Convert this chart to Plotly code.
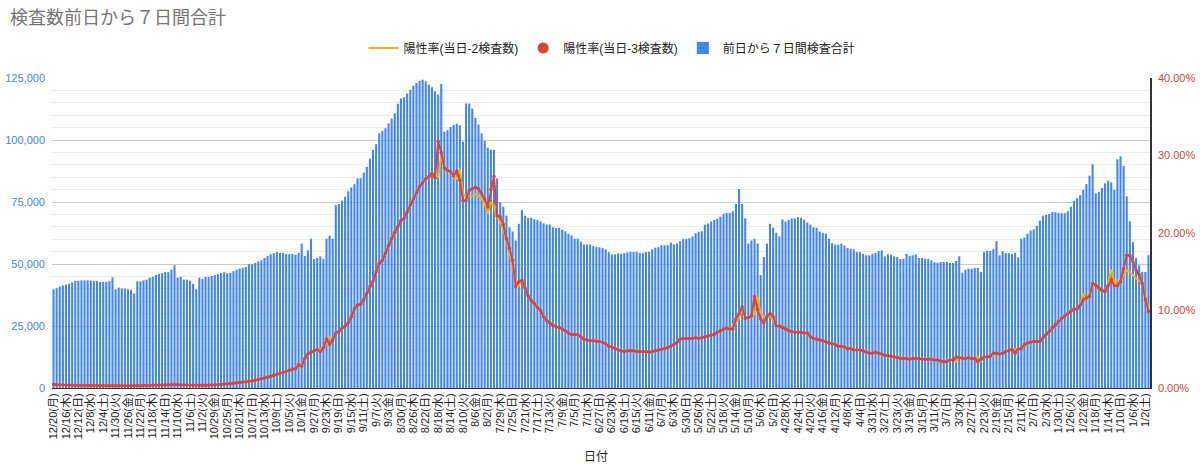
import plotly.graph_objects as go
from datetime import date, timedelta

# ---------------- data ----------------
START = date(2021, 12, 20)          # leftmost category (axis runs backwards in time)
N_DAYS = 354
WEEKDAYS = ["月", "火", "水", "木", "金", "土", "日"]
dates = [START - timedelta(days=i) for i in range(N_DAYS)]
categories = [f"{d.month}/{d.day}({WEEKDAYS[d.weekday()]})" for d in dates]
tick_labels = categories[::4]

y_left_ticks = [0, 25000, 50000, 75000, 100000, 125000]
y_right_ticks = [0, 10, 20, 30, 40]
y_right_labels = ["0.00%", "10.00%", "20.00%", "30.00%", "40.00%"]

# 前日から７日間検査合計 (index 0 = 12/20, last = 1/1)
tests_7day = [
    39800, 40200, 40900, 41300, 41700, 42100, 42600, 43200, 43200, 43400,
    43400, 43400, 43300, 43200, 43200, 42800, 42800, 42800, 43000, 44600,
    39800, 40500, 40100, 40100, 39800, 39600, 38100, 43000, 43000, 43400,
    43700, 44500, 44900, 45600, 46000, 46300, 46700, 46700, 47700, 49500,
    44500, 44800, 43700, 43700, 43300, 42000, 39800, 44500, 43900, 44800,
    44800, 45200, 45500, 45900, 46300, 46700, 46300, 46400, 47100, 47700,
    48100, 48500, 48800, 49900, 49900, 50400, 51100, 51500, 52400, 53200,
    53900, 54400, 54800, 54500, 54400, 54100, 53900, 54000, 53700, 54500,
    58200, 53200, 55500, 60200, 52000, 52400, 53100, 52100, 60200, 61400,
    60200, 73800, 74200, 75500, 77100, 79300, 80900, 82200, 84500, 84600,
    86900, 89200, 92500, 96000, 98300, 102700, 103600, 104700, 106700, 108700,
    110800, 114600, 116700, 117200, 118700, 120300, 121900, 123000, 123900, 124300,
    123700, 122300, 121300, 119700, 118300, 122600, 103300, 103900, 105200, 106000,
    106600, 105900, 99300, 114700, 114700, 112700, 109000, 106300, 102700, 99600,
    96900, 96100, 96000, 84500, 74900, 73100, 69500, 64800, 63100, 59500,
    66200, 71800, 69500, 68600, 68600, 68000, 67800, 67200, 66400, 65900,
    65900, 64800, 64600, 64600, 63800, 63200, 62200, 61500, 60200, 60200,
    59000, 57900, 57900, 57900, 57200, 56800, 56700, 56400, 55900, 54800,
    53900, 53900, 54300, 54100, 54400, 54700, 54900, 54900, 54900, 54500,
    54500, 54900, 54900, 55900, 56600, 56800, 57500, 57500, 57500, 58600,
    57900, 58300, 59200, 60000, 60000, 60400, 61100, 62400, 63000, 63200,
    65900, 66300, 67100, 67800, 68200, 69100, 70200, 70600, 70600, 71300,
    74200, 80200, 74200, 68400, 58200, 59500, 60200, 58200, 45500, 52800,
    58200, 66200, 64600, 62600, 61100, 68000, 67100, 67800, 68400, 68400,
    68900, 68600, 67900, 66700, 65900, 64800, 64600, 63100, 62600, 62200,
    60200, 58400, 57800, 57800, 58200, 57400, 56400, 56100, 55900, 54800,
    54800, 54100, 53500, 53500, 54100, 54500, 55200, 55500, 53100, 53900,
    53700, 53100, 52800, 52000, 52000, 54100, 53300, 53500, 53900, 52400,
    52400, 52100, 52100, 51500, 50700, 50500, 50800, 50800, 50800, 50400,
    50400, 51200, 53100, 46500, 47700, 48100, 48100, 48400, 48400, 46800,
    54800, 55300, 55300, 56000, 59200, 53500, 55100, 54400, 54400, 54100,
    54500, 52700, 60200, 60600, 62200, 63500, 63900, 65400, 67500, 69500,
    69800, 70200, 70900, 70900, 70500, 70500, 70500, 71300, 73100, 75500,
    76500, 77800, 79900, 82200, 85600, 90200, 78500, 79100, 80600, 82500,
    83600, 82900, 79900, 92200, 93400, 89600, 77300, 67200, 58800, 52400,
    49500, 46800, 46800, 53500,
]

# 陽性率(当日-3検査数)  [%]
pos_rate_d3 = [
    0.45, 0.42, 0.40, 0.38, 0.37, 0.36, 0.35, 0.34, 0.33, 0.32,
    0.31, 0.31, 0.30, 0.30, 0.29, 0.29, 0.28, 0.28, 0.28, 0.29,
    0.30, 0.30, 0.29, 0.29, 0.28, 0.28, 0.29, 0.29, 0.30, 0.31,
    0.32, 0.33, 0.35, 0.36, 0.38, 0.40, 0.42, 0.43, 0.44, 0.45,
    0.44, 0.42, 0.40, 0.38, 0.36, 0.35, 0.34, 0.33, 0.34, 0.35,
    0.36, 0.38, 0.40, 0.42, 0.45, 0.48, 0.52, 0.56, 0.60, 0.65,
    0.70, 0.75, 0.80, 0.85, 0.90, 1.0, 1.1, 1.2, 1.3, 1.4,
    1.5, 1.6, 1.75, 1.9, 2.0, 2.15, 2.3, 2.45, 2.5, 3.0,
    2.8, 3.8, 4.4, 4.6, 4.8, 5.0, 4.7, 5.2, 6.3, 5.6,
    6.2, 7.1, 7.3, 7.7, 8.0, 8.4, 9.2, 10.2, 10.7, 10.8,
    11.4, 12.2, 13.1, 13.8, 15.0, 16.1, 16.5, 17.4, 18.4, 19.3,
    20.1, 20.8, 21.6, 21.9, 22.7, 23.6, 24.4, 25.2, 26.0, 26.5,
    27.0, 27.3, 27.7, 27.1, 31.8, 30.4, 28.4, 28.1, 27.9, 27.4,
    28.0, 26.8, 24.2, 24.2, 25.5, 25.7, 25.9, 25.7, 25.1, 24.4,
    23.4, 25.6, 27.3, 22.2, 22.1, 21.1, 19.3, 18.0, 16.5, 13.1,
    13.7, 13.9, 12.9, 11.9, 11.3, 10.9, 10.4, 10.0, 9.2, 8.7,
    8.4, 8.1, 7.9, 7.8, 7.6, 7.4, 7.1, 6.9, 6.9, 6.9,
    6.6, 6.3, 6.2, 6.1, 6.1, 6.0, 6.0, 5.9, 5.7, 5.4,
    5.3, 5.1, 4.9, 4.8, 4.7, 4.8, 4.8, 4.8, 4.7, 4.7,
    4.7, 4.7, 4.6, 4.7, 4.8, 4.9, 5.0, 5.1, 5.2, 5.4,
    5.6, 5.9, 6.3, 6.4, 6.4, 6.4, 6.4, 6.5, 6.4, 6.5,
    6.6, 6.7, 6.8, 6.9, 7.2, 7.4, 7.6, 7.7, 7.6, 7.6,
    8.9, 9.6, 10.5, 9.0, 9.1, 9.3, 11.8, 10.1, 8.9, 8.4,
    9.2, 9.6, 9.2, 8.0, 8.0, 7.8, 7.6, 7.4, 7.3, 7.2,
    7.2, 7.2, 7.1, 7.1, 6.6, 6.4, 6.3, 6.2, 6.1, 6.0,
    5.8, 5.7, 5.6, 5.4, 5.4, 5.3, 5.1, 5.1, 4.9, 4.9,
    4.9, 4.8, 4.6, 4.5, 4.5, 4.6, 4.5, 4.4, 4.2, 4.2,
    4.1, 4.0, 3.9, 3.8, 3.8, 3.8, 3.7, 3.8, 3.8, 3.8,
    3.7, 3.7, 3.7, 3.7, 3.6, 3.6, 3.5, 3.4, 3.4, 3.6,
    3.6, 4.0, 3.9, 3.8, 3.8, 3.9, 3.8, 3.8, 3.4, 3.7,
    4.0, 4.0, 4.1, 4.5, 4.5, 4.4, 4.5, 4.7, 4.8, 5.0,
    4.5, 5.0, 5.1, 5.6, 5.8, 5.9, 6.0, 6.0, 6.0, 6.5,
    6.9, 7.3, 7.8, 8.2, 8.6, 9.0, 9.3, 9.6, 9.9, 10.2,
    10.2, 10.7, 11.4, 11.6, 11.8, 13.5, 13.3, 12.9, 12.6, 12.4,
    13.2, 14.0, 13.2, 13.2, 13.7, 15.4, 17.1, 17.1, 16.3, 15.2,
    14.6, 13.5, 11.4, 9.9,
]

# 陽性率(当日-2検査数)  [%]
pos_rate_d2 = [
    0.45, 0.42, 0.40, 0.38, 0.37, 0.36, 0.35, 0.34, 0.33, 0.32,
    0.31, 0.31, 0.30, 0.30, 0.29, 0.29, 0.28, 0.28, 0.28, 0.29,
    0.30, 0.30, 0.29, 0.29, 0.28, 0.28, 0.29, 0.29, 0.30, 0.31,
    0.32, 0.33, 0.35, 0.36, 0.38, 0.40, 0.42, 0.43, 0.44, 0.45,
    0.44, 0.42, 0.40, 0.38, 0.36, 0.35, 0.34, 0.33, 0.34, 0.35,
    0.36, 0.38, 0.40, 0.42, 0.45, 0.48, 0.52, 0.56, 0.60, 0.65,
    0.70, 0.75, 0.80, 0.85, 0.90, 1.0, 1.1, 1.2, 1.3, 1.4,
    1.5, 1.6, 1.75, 1.9, 2.0, 2.15, 2.3, 2.45, 2.6, 2.9,
    3.1, 3.6, 4.4, 4.6, 4.8, 4.9, 5.0, 5.2, 5.8, 6.6,
    6.2, 7.1, 7.3, 7.7, 8.0, 8.4, 9.2, 10.2, 10.7, 10.8,
    11.4, 12.2, 13.1, 13.8, 15.0, 16.1, 16.5, 17.4, 18.4, 19.3,
    20.1, 20.8, 21.6, 21.9, 22.7, 23.6, 24.4, 25.2, 26.0, 26.5,
    27.0, 27.3, 27.7, 27.0, 27.2, 30.0, 28.6, 28.1, 27.9, 27.2,
    27.0, 28.3, 25.1, 24.6, 24.8, 24.8, 25.0, 24.8, 24.4, 23.8,
    22.5, 24.0, 23.4, 22.1, 21.4, 20.5, 19.0, 17.5, 15.5, 13.8,
    13.2, 13.9, 12.9, 11.9, 11.3, 10.9, 10.4, 10.0, 9.2, 8.7,
    8.4, 8.1, 7.9, 7.8, 7.6, 7.4, 7.1, 6.9, 6.9, 6.9,
    6.6, 6.3, 6.2, 6.1, 6.1, 6.0, 6.0, 5.9, 5.7, 5.4,
    5.3, 5.1, 4.9, 4.8, 4.7, 4.8, 4.8, 4.8, 4.7, 4.7,
    4.7, 4.7, 4.6, 4.7, 4.8, 4.9, 5.0, 5.1, 5.2, 5.4,
    5.6, 5.9, 6.3, 6.4, 6.4, 6.4, 6.4, 6.5, 6.4, 6.5,
    6.6, 6.7, 6.8, 6.9, 7.2, 7.4, 7.6, 7.7, 7.6, 8.1,
    8.4, 9.0, 10.1, 9.2, 9.1, 9.3, 9.5, 11.8, 9.6, 9.2,
    9.2, 9.4, 8.6, 8.0, 8.0, 7.8, 7.6, 7.4, 7.3, 7.2,
    7.2, 7.2, 7.1, 7.1, 6.6, 6.4, 6.3, 6.2, 6.1, 6.0,
    5.8, 5.7, 5.6, 5.4, 5.4, 5.3, 5.1, 5.1, 4.9, 4.9,
    4.9, 4.8, 4.6, 4.5, 4.5, 4.6, 4.5, 4.4, 4.2, 4.2,
    4.1, 4.0, 3.9, 3.8, 3.8, 3.8, 3.7, 3.8, 3.8, 3.8,
    3.7, 3.7, 3.7, 3.7, 3.6, 3.6, 3.5, 3.4, 3.4, 3.6,
    3.6, 3.4, 4.0, 3.8, 3.8, 3.9, 3.8, 3.8, 4.0, 3.5,
    4.0, 4.0, 4.1, 4.2, 4.5, 4.4, 4.5, 4.7, 4.8, 5.0,
    5.0, 5.0, 5.1, 5.6, 5.8, 5.9, 6.0, 6.0, 6.0, 6.5,
    6.9, 7.3, 7.8, 8.2, 8.6, 9.0, 9.3, 9.6, 9.9, 10.2,
    10.2, 10.7, 12.2, 11.4, 12.2, 13.2, 13.2, 12.9, 12.6, 12.4,
    13.5, 15.3, 13.5, 13.9, 13.9, 14.6, 15.2, 15.0, 14.6, 14.1,
    13.9, 13.5, 11.8, 10.3,
]

# ---------------- styles ----------------
BLUE = "#4285f4"
RED = "#db4437"
YELLOW = "#f4b400"
FONT = "Arial, 'Liberation Sans', 'Noto Sans CJK JP', sans-serif"

PLOT_L, PLOT_R, PLOT_T, PLOT_B = 52, 1150, 78, 388
W, H = 1200, 473
plot_h = PLOT_B - PLOT_T

fig = go.Figure()
fig.add_trace(go.Bar(
    x=categories, y=tests_7day, name="前日から７日間検査合計",
    marker=dict(color=BLUE, line=dict(width=0)), legendrank=3,
))
fig.add_trace(go.Scatter(
    x=categories, y=pos_rate_d2, name="陽性率(当日-2検査数)", yaxis="y2",
    mode="lines", line=dict(color=YELLOW, width=2), legendrank=1,
))
fig.add_trace(go.Scatter(
    x=categories, y=pos_rate_d3, name="陽性率(当日-3検査数)", yaxis="y2",
    mode="lines+markers", line=dict(color=RED, width=2),
    marker=dict(color=RED, size=3.5), showlegend=False,
))
# legend entry for the red series (circle symbol, as in the original legend)
fig.add_trace(go.Scatter(
    x=[None], y=[None], name="陽性率(当日-3検査数)", yaxis="y2",
    mode="markers", marker=dict(color=RED, size=11), legendrank=2,
))

fig.update_layout(
    width=W, height=H,
    margin=dict(l=PLOT_L, r=W - PLOT_R, t=PLOT_T, b=H - PLOT_B, pad=0),
    paper_bgcolor="white", plot_bgcolor="white",
    font=dict(family=FONT, size=12, color="#222222"),
    bargap=0.33,
    title=dict(text="検査数前日から７日間合計", x=10 / W, xanchor="left", xref="container",
               y=1 - 18 / H, yanchor="middle", yref="container",
               font=dict(size=18, color="#757575", family=FONT)),
    legend=dict(orientation="h", x=0.51, xanchor="center",
                y=1 + (PLOT_T - 48) / plot_h, yanchor="middle",
                font=dict(size=12, color="#222222"), traceorder="normal",
                itemwidth=30),
    xaxis=dict(type="category", range=[-0.5, N_DAYS - 0.5], autorange=False,
               tickmode="array", tickvals=tick_labels, ticktext=tick_labels,
               tickangle=-90, tickfont=dict(size=11, color="#222222"),
               showgrid=False, showline=True, linecolor="#333333", linewidth=1,
               ticks="", automargin=False),
    yaxis=dict(range=[0, 125000], autorange=False, tickmode="array",
               tickvals=y_left_ticks, tickformat=",", tickfont=dict(size=11, color=BLUE),
               gridcolor="#cccccc", gridwidth=1, zeroline=False, showline=False,
               minor=dict(dtick=5000, tick0=0, showgrid=True, gridcolor="#ececec", gridwidth=1),
               automargin=False, ticklabelstandoff=6),
    yaxis2=dict(range=[0, 40], autorange=False, overlaying="y", side="right",
                tickmode="array", tickvals=y_right_ticks, ticktext=y_right_labels,
                tickfont=dict(size=11, color=RED), showgrid=False, zeroline=False,
                showline=True, linecolor="#333333", linewidth=1.5,
                automargin=False, ticklabelstandoff=4),
    showlegend=True,
)

fig.add_annotation(text="日付", xref="paper", yref="paper", x=0.495,
                   y=-(457 - PLOT_B) / plot_h, yanchor="middle", showarrow=False,
                   font=dict(size=12, color="#222222"))

fig.write_html("out.html", config={"displayModeBar": False},
               post_script="document.body.style.margin='0';")
